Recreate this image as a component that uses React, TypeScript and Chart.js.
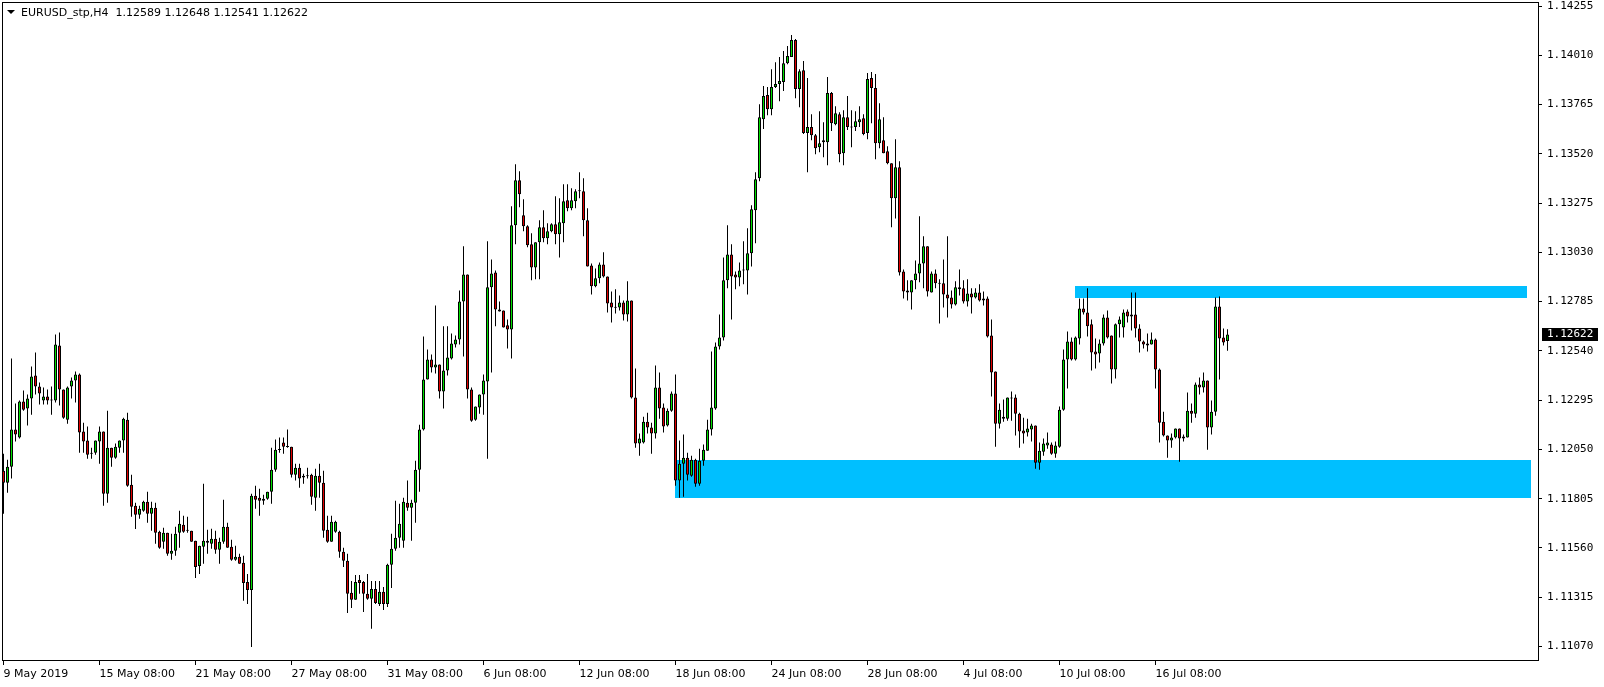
import React, { useEffect, useRef } from 'react';
import { Chart, registerables } from 'chart.js';

Chart.register(...registerables);

const symbolTitle = 'EURUSD_stp,H4';

const opens = [
  1.11944, 1.11885, 1.11964, 1.12149, 1.12109, 1.12288, 1.12253, 1.12303, 1.12418, 1.12363,
  1.12293, 1.12313, 1.12295, 1.12293, 1.12567, 1.12348, 1.12198, 1.12363, 1.12393, 1.12423,
  1.12139, 1.12094, 1.12034, 1.12034, 1.12089, 1.12139, 1.11830, 1.12059, 1.12009, 1.12059,
  1.12094, 1.12198, 1.11875, 1.11770, 1.11725, 1.11745, 1.11790, 1.11730, 1.11760, 1.11641,
  1.11591, 1.11636, 1.11531, 1.11546, 1.11636, 1.11675, 1.11648, 1.11646, 1.11596, 1.11471,
  1.11566, 1.11586, 1.11581, 1.11606, 1.11551, 1.11591, 1.11666, 1.11566, 1.11501, 1.11516,
  1.11486, 1.11391, 1.11351, 1.11820, 1.11810, 1.11795, 1.11805, 1.11840, 1.11949, 1.12047,
  1.12084, 1.12064, 1.12064, 1.11924, 1.11959, 1.11910, 1.11919, 1.11924, 1.11810, 1.11919,
  1.11885, 1.11651, 1.11591, 1.11641, 1.11641, 1.11541, 1.11496, 1.11337, 1.11302, 1.11401,
  1.11391, 1.11332, 1.11307, 1.11356, 1.11282, 1.11342, 1.11282, 1.11476, 1.11556, 1.11611,
  1.11596, 1.11785, 1.11760, 1.11785, 1.11949, 1.12149, 1.12398, 1.12497, 1.12457, 1.12472,
  1.12338, 1.12443, 1.12502, 1.12572, 1.12597, 1.12786, 1.12920, 1.12348, 1.12198, 1.12258,
  1.12323, 1.12388, 1.12856, 1.12930, 1.12746, 1.12741, 1.12667, 1.12647, 1.13165, 1.13389,
  1.13215, 1.13160, 1.13070, 1.12955, 1.13080, 1.13155, 1.13100, 1.13135, 1.13170, 1.13120,
  1.13175, 1.13289, 1.13249, 1.13284, 1.13334, 1.13334, 1.13190, 1.12965, 1.12861, 1.12901,
  1.12970, 1.12910, 1.12781, 1.12756, 1.12756, 1.12781, 1.12721, 1.12791, 1.12308, 1.12079,
  1.12084, 1.12188, 1.12159, 1.12129, 1.12358, 1.12258, 1.12169, 1.12243, 1.12328, 1.11895,
  1.11979, 1.12009, 1.11919, 1.11999, 1.11880, 1.11994, 1.12044, 1.12149, 1.12253, 1.12562,
  1.12607, 1.12891, 1.13020, 1.12920, 1.12905, 1.12940, 1.12940, 1.13025, 1.13239, 1.13398,
  1.13692, 1.13812, 1.13742, 1.13852, 1.13867, 1.13877, 1.13971, 1.14001, 1.14086, 1.13842,
  1.13936, 1.13623, 1.13653, 1.13613, 1.13553, 1.13578, 1.13578, 1.13822, 1.13667, 1.13717,
  1.13523, 1.13702, 1.13653, 1.13653, 1.13677, 1.13697, 1.13623, 1.13897, 1.13847, 1.13573,
  1.13588, 1.13533, 1.13473, 1.13299, 1.13453, 1.12935, 1.12841, 1.12831, 1.12891, 1.12925,
  1.12975, 1.13060, 1.12831, 1.12925, 1.12876, 1.12876, 1.12821, 1.12806, 1.12771, 1.12856,
  1.12851, 1.12786, 1.12826, 1.12806, 1.12831, 1.12801, 1.12801, 1.12617, 1.12438, 1.12178,
  1.12203, 1.12203, 1.12308, 1.12308, 1.12228, 1.12144, 1.12134, 1.12149, 1.12169, 1.11984,
  1.12039, 1.12069, 1.12074, 1.12029, 1.12064, 1.12248, 1.12497, 1.12587, 1.12497, 1.12602,
  1.12751, 1.12731, 1.12672, 1.12537, 1.12527, 1.12577, 1.12706, 1.12617, 1.12448, 1.12672,
  1.12657, 1.12736, 1.12711, 1.12721, 1.12652, 1.12587, 1.12577, 1.12572, 1.12597, 1.12448,
  1.12188, 1.12119, 1.12094, 1.12109, 1.12154, 1.12104, 1.12109, 1.12243, 1.12228, 1.12373,
  1.12358, 1.12393, 1.12159, 1.12238, 1.12761, 1.12607, 1.12589,
];

const highs = [
  1.12029, 1.11999, 1.12502, 1.12278, 1.12293, 1.12343, 1.12323, 1.12462, 1.12532, 1.12383,
  1.12358, 1.12348, 1.12363, 1.12622, 1.12632, 1.12348, 1.12363, 1.12408, 1.12438, 1.12428,
  1.12183, 1.12164, 1.12059, 1.12094, 1.12164, 1.12139, 1.12243, 1.12059, 1.12079, 1.12094,
  1.12208, 1.12233, 1.11924, 1.11785, 1.11770, 1.11795, 1.11840, 1.11790, 1.11785, 1.11646,
  1.11661, 1.11636, 1.11631, 1.11666, 1.11745, 1.11720, 1.11715, 1.11646, 1.11596, 1.11571,
  1.11880, 1.11651, 1.11656, 1.11646, 1.11611, 1.11800, 1.11685, 1.11601, 1.11571, 1.11531,
  1.11521, 1.11431, 1.11830, 1.11870, 1.11855, 1.11825, 1.11840, 1.12059, 1.12099, 1.12109,
  1.12109, 1.12149, 1.12064, 1.11979, 1.11979, 1.11929, 1.11959, 1.11929, 1.11954, 1.11979,
  1.11944, 1.11720, 1.11720, 1.11695, 1.11646, 1.11561, 1.11531, 1.11396, 1.11426, 1.11426,
  1.11396, 1.11431, 1.11396, 1.11396, 1.11396, 1.11366, 1.11481, 1.11631, 1.11795, 1.11780,
  1.11810, 1.11895, 1.11800, 1.11994, 1.12173, 1.12612, 1.12547, 1.12522, 1.12766, 1.12472,
  1.12662, 1.12662, 1.12627, 1.12617, 1.12841, 1.13060, 1.12920, 1.12358, 1.12263, 1.12323,
  1.12423, 1.13085, 1.12995, 1.12940, 1.12786, 1.12741, 1.12696, 1.13259, 1.13468, 1.13433,
  1.13294, 1.13165, 1.13125, 1.13080, 1.13190, 1.13239, 1.13175, 1.13175, 1.13309, 1.13299,
  1.13369, 1.13369, 1.13349, 1.13344, 1.13428, 1.13398, 1.13249, 1.12975, 1.12950, 1.12980,
  1.13030, 1.12910, 1.12836, 1.12846, 1.12816, 1.12791, 1.12886, 1.12791, 1.12452, 1.12129,
  1.12213, 1.12233, 1.12183, 1.12467, 1.12433, 1.12278, 1.12253, 1.12338, 1.12423, 1.12094,
  1.12124, 1.12034, 1.12019, 1.12004, 1.12054, 1.12074, 1.12198, 1.12537, 1.12582, 1.12721,
  1.13005, 1.13165, 1.13070, 1.12935, 1.12980, 1.13085, 1.13150, 1.13264, 1.13428, 1.13767,
  1.13857, 1.13852, 1.13941, 1.13976, 1.14001, 1.14031, 1.14056, 1.14111, 1.14091, 1.13941,
  1.13981, 1.13897, 1.13717, 1.13618, 1.13732, 1.13677, 1.13902, 1.13827, 1.13757, 1.13727,
  1.13737, 1.13807, 1.13737, 1.13732, 1.13757, 1.13717, 1.13922, 1.13927, 1.13917, 1.13772,
  1.13702, 1.13558, 1.13473, 1.13593, 1.13483, 1.12945, 1.12891, 1.12891, 1.12990, 1.13210,
  1.13110, 1.13060, 1.12935, 1.12945, 1.12896, 1.12995, 1.13110, 1.12841, 1.12886, 1.12945,
  1.12891, 1.12896, 1.12851, 1.12851, 1.12871, 1.12836, 1.12811, 1.12696, 1.12438, 1.12278,
  1.12298, 1.12308, 1.12338, 1.12323, 1.12233, 1.12208, 1.12203, 1.12178, 1.12169, 1.12084,
  1.12104, 1.12134, 1.12084, 1.12089, 1.12263, 1.12547, 1.12637, 1.12607, 1.12612, 1.12801,
  1.12801, 1.12851, 1.12696, 1.12602, 1.12597, 1.12721, 1.12741, 1.12617, 1.12676, 1.12711,
  1.12746, 1.12746, 1.12831, 1.12831, 1.12672, 1.12592, 1.12627, 1.12632, 1.12602, 1.12452,
  1.12238, 1.12119, 1.12129, 1.12154, 1.12154, 1.12124, 1.12333, 1.12278, 1.12383, 1.12408,
  1.12433, 1.12393, 1.12293, 1.12806, 1.12811, 1.12652, 1.12648,
];

const lows = [
  1.11730, 1.11835, 1.11905, 1.12089, 1.12104, 1.12243, 1.12169, 1.12223, 1.12323, 1.12273,
  1.12273, 1.12273, 1.12223, 1.12283, 1.12268, 1.12203, 1.12178, 1.12303, 1.12283, 1.12034,
  1.12034, 1.12004, 1.12004, 1.12024, 1.11979, 1.11770, 1.11785, 1.11964, 1.12004, 1.12034,
  1.12034, 1.11865, 1.11715, 1.11655, 1.11705, 1.11740, 1.11685, 1.11646, 1.11581, 1.11556,
  1.11556, 1.11521, 1.11501, 1.11521, 1.11561, 1.11636, 1.11636, 1.11591, 1.11411, 1.11431,
  1.11481, 1.11531, 1.11556, 1.11531, 1.11481, 1.11581, 1.11561, 1.11496, 1.11496, 1.11481,
  1.11297, 1.11282, 1.11068, 1.11755, 1.11720, 1.11775, 1.11800, 1.11780, 1.11939, 1.12034,
  1.12029, 1.12059, 1.11910, 1.11895, 1.11860, 1.11880, 1.11905, 1.11775, 1.11745, 1.11810,
  1.11611, 1.11586, 1.11591, 1.11636, 1.11511, 1.11466, 1.11237, 1.11262, 1.11302, 1.11332,
  1.11242, 1.11302, 1.11158, 1.11282, 1.11272, 1.11252, 1.11267, 1.11361, 1.11546, 1.11561,
  1.11561, 1.11745, 1.11596, 1.11685, 1.11840, 1.12144, 1.12398, 1.12433, 1.12428, 1.12303,
  1.12253, 1.12418, 1.12497, 1.12557, 1.12572, 1.12512, 1.12303, 1.12188, 1.12193, 1.12228,
  1.12223, 1.12004, 1.12433, 1.12662, 1.12736, 1.12657, 1.12552, 1.12502, 1.13070, 1.13254,
  1.13135, 1.13055, 1.12891, 1.12896, 1.12896, 1.13080, 1.13070, 1.13130, 1.13070, 1.13005,
  1.13080, 1.13234, 1.13239, 1.13249, 1.13299, 1.13110, 1.12960, 1.12821, 1.12856, 1.12876,
  1.12905, 1.12731, 1.12681, 1.12726, 1.12741, 1.12691, 1.12686, 1.12303, 1.12059, 1.12019,
  1.12079, 1.12129, 1.12029, 1.12104, 1.12203, 1.12134, 1.12164, 1.12238, 1.11870, 1.11810,
  1.11815, 1.11895, 1.11914, 1.11865, 1.11870, 1.11969, 1.12044, 1.12119, 1.12248, 1.12547,
  1.12592, 1.12851, 1.12696, 1.12846, 1.12861, 1.12871, 1.12821, 1.12960, 1.13075, 1.13384,
  1.13643, 1.13712, 1.13712, 1.13847, 1.13782, 1.13832, 1.13966, 1.14001, 1.13797, 1.13752,
  1.13618, 1.13428, 1.13588, 1.13518, 1.13528, 1.13503, 1.13463, 1.13633, 1.13662, 1.13478,
  1.13463, 1.13638, 1.13553, 1.13633, 1.13653, 1.13613, 1.13593, 1.13672, 1.13493, 1.13548,
  1.13523, 1.13468, 1.13155, 1.13199, 1.12915, 1.12801, 1.12791, 1.12746, 1.12846, 1.12881,
  1.12851, 1.12811, 1.12831, 1.12851, 1.12676, 1.12756, 1.12706, 1.12751, 1.12766, 1.12816,
  1.12776, 1.12761, 1.12726, 1.12801, 1.12786, 1.12766, 1.12607, 1.12313, 1.12064, 1.12154,
  1.12188, 1.12193, 1.12193, 1.12119, 1.12059, 1.12079, 1.12114, 1.12089, 1.11954, 1.11949,
  1.12019, 1.12054, 1.12024, 1.12009, 1.12059, 1.12243, 1.12353, 1.12492, 1.12492, 1.12572,
  1.12721, 1.12612, 1.12443, 1.12452, 1.12482, 1.12567, 1.12602, 1.12378, 1.12403, 1.12607,
  1.12607, 1.12681, 1.12642, 1.12607, 1.12532, 1.12552, 1.12537, 1.12572, 1.12353, 1.12084,
  1.12114, 1.12009, 1.12059, 1.12104, 1.11989, 1.12089, 1.12109, 1.12183, 1.12208, 1.12323,
  1.12333, 1.12049, 1.12124, 1.12218, 1.12398, 1.12567, 1.12541,
];

const closes = [
  1.11885, 1.11964, 1.12149, 1.12124, 1.12288, 1.12248, 1.12303, 1.12413, 1.12363, 1.12328,
  1.12313, 1.12293, 1.12293, 1.12572, 1.12348, 1.12208, 1.12358, 1.12393, 1.12423, 1.12134,
  1.12089, 1.12024, 1.12029, 1.12094, 1.12139, 1.11830, 1.12059, 1.12009, 1.12064, 1.12094,
  1.12203, 1.11870, 1.11765, 1.11725, 1.11755, 1.11790, 1.11730, 1.11760, 1.11636, 1.11561,
  1.11636, 1.11531, 1.11546, 1.11631, 1.11680, 1.11641, 1.11646, 1.11591, 1.11466, 1.11571,
  1.11596, 1.11596, 1.11606, 1.11551, 1.11591, 1.11666, 1.11561, 1.11501, 1.11516, 1.11481,
  1.11386, 1.11351, 1.11820, 1.11800, 1.11795, 1.11805, 1.11840, 1.11949, 1.12049, 1.12049,
  1.12064, 1.12062, 1.11924, 1.11959, 1.11905, 1.11919, 1.11917, 1.11815, 1.11919, 1.11885,
  1.11646, 1.11591, 1.11690, 1.11690, 1.11541, 1.11496, 1.11332, 1.11302, 1.11391, 1.11386,
  1.11332, 1.11307, 1.11356, 1.11287, 1.11342, 1.11282, 1.11476, 1.11556, 1.11611, 1.11680,
  1.11790, 1.11760, 1.11785, 1.11949, 1.12149, 1.12398, 1.12497, 1.12457, 1.12472, 1.12338,
  1.12443, 1.12507, 1.12577, 1.12597, 1.12786, 1.12920, 1.12348, 1.12193, 1.12263, 1.12323,
  1.12393, 1.12856, 1.12925, 1.12746, 1.12736, 1.12657, 1.12647, 1.13165, 1.13389, 1.13319,
  1.13160, 1.13065, 1.12955, 1.13080, 1.13155, 1.13100, 1.13135, 1.13170, 1.13120, 1.13180,
  1.13284, 1.13249, 1.13289, 1.13334, 1.13336, 1.13190, 1.12960, 1.12861, 1.12901, 1.12970,
  1.12910, 1.12776, 1.12756, 1.12754, 1.12781, 1.12721, 1.12791, 1.12308, 1.12079, 1.12104,
  1.12188, 1.12159, 1.12129, 1.12358, 1.12253, 1.12164, 1.12243, 1.12328, 1.11895, 1.11979,
  1.12009, 1.11924, 1.11999, 1.11880, 1.11994, 1.12049, 1.12149, 1.12258, 1.12562, 1.12607,
  1.12891, 1.13020, 1.12910, 1.12905, 1.12940, 1.12942, 1.13025, 1.13244, 1.13394, 1.13702,
  1.13807, 1.13742, 1.13852, 1.13867, 1.13882, 1.13971, 1.14006, 1.14086, 1.13842, 1.13931,
  1.13623, 1.13653, 1.13613, 1.13548, 1.13573, 1.13588, 1.13822, 1.13672, 1.13722, 1.13518,
  1.13702, 1.13653, 1.13651, 1.13682, 1.13692, 1.13618, 1.13892, 1.13847, 1.13573, 1.13692,
  1.13523, 1.13473, 1.13299, 1.13453, 1.12930, 1.12836, 1.12831, 1.12891, 1.12925, 1.12975,
  1.13060, 1.12836, 1.12925, 1.12876, 1.12874, 1.12821, 1.12801, 1.12771, 1.12856, 1.12846,
  1.12786, 1.12826, 1.12806, 1.12831, 1.12791, 1.12791, 1.12612, 1.12433, 1.12178, 1.12248,
  1.12213, 1.12308, 1.12303, 1.12228, 1.12139, 1.12129, 1.12154, 1.12169, 1.11984, 1.12044,
  1.12079, 1.12084, 1.12029, 1.12069, 1.12248, 1.12497, 1.12587, 1.12497, 1.12607, 1.12751,
  1.12731, 1.12662, 1.12532, 1.12522, 1.12577, 1.12706, 1.12607, 1.12448, 1.12672, 1.12696,
  1.12731, 1.12711, 1.12721, 1.12652, 1.12587, 1.12572, 1.12567, 1.12597, 1.12448, 1.12183,
  1.12119, 1.12094, 1.12109, 1.12154, 1.12104, 1.12114, 1.12243, 1.12228, 1.12373, 1.12358,
  1.12393, 1.12159, 1.12238, 1.12761, 1.12602, 1.12582, 1.12622,
];

const yTickValues = [
  1.14255, 1.1401, 1.13765, 1.1352, 1.13275, 1.1303, 1.12785, 1.1254, 1.12295, 1.1205,
  1.11805, 1.1156, 1.11315, 1.1107,
];

const xTickBars = [0, 24, 48, 72, 96, 120, 144, 168, 192, 216, 240, 264, 288];
const xTickLabels = [
  '9 May 2019', '15 May 08:00', '21 May 08:00', '27 May 08:00', '31 May 08:00', '6 Jun 08:00',
  '12 Jun 08:00', '18 Jun 08:00', '24 Jun 08:00', '28 Jun 08:00', '4 Jul 08:00', '10 Jul 08:00',
  '16 Jul 08:00',
];

// support / resistance zones (bar index range, price range)
const zoneFromBar = [167.9, 267.9];
const zoneToBar = [381.9, 380.9];
const zoneTopPrice = [1.11999, 1.12861];
const zoneBottomPrice = [1.11811, 1.12803];

const xMin = -0.375;
const xMax = 383.875;
const yMin = 1.10998;
const yMax = 1.14275;

const BULL = '#00e000';
const BEAR = '#e00000';
const ZONE = '#00bfff';

export default function App() {
  const canvasRef = useRef<HTMLCanvasElement | null>(null);

  useEffect(() => {
    const canvas = canvasRef.current;
    if (!canvas) return;

    const bodies = opens.map((o, i) => ({ x: i, y: [o, closes[i]] }));
    const wicks = lows.map((l, i) => ({ x: i, y: [l, highs[i]] }));
    const bodyColors = opens.map((o, i) => (closes[i] > o ? BULL : closes[i] < o ? BEAR : '#000000'));

    const last = closes.length - 1;
    const titleText =
      symbolTitle +
      '  ' +
      [opens[last], highs[last], lows[last], closes[last]].map((v) => v.toFixed(5)).join(' ');

    const decorPlugin = {
      id: 'mt4decor',
      beforeDatasetsDraw(chart: any) {
        const { ctx, chartArea, scales } = chart;
        const xs = scales.x;
        const ys = scales.y;
        ctx.save();
        ctx.beginPath();
        ctx.rect(chartArea.left, chartArea.top, chartArea.right - chartArea.left, chartArea.bottom - chartArea.top);
        ctx.clip();
        ctx.fillStyle = ZONE;
        for (let k = 0; k < zoneFromBar.length; k++) {
          const x1 = xs.getPixelForValue(zoneFromBar[k]);
          const x2 = xs.getPixelForValue(zoneToBar[k]);
          const y1 = ys.getPixelForValue(zoneTopPrice[k]);
          const y2 = ys.getPixelForValue(zoneBottomPrice[k]);
          ctx.fillRect(Math.round(x1), Math.round(y1), Math.round(x2 - x1), Math.round(y2 - y1));
        }
        ctx.restore();
        ctx.save();
        ctx.strokeStyle = '#000000';
        ctx.lineWidth = 1;
        ctx.strokeRect(
          chartArea.left + 0.5,
          chartArea.top + 0.5,
          chartArea.right - chartArea.left - 1,
          chartArea.bottom - chartArea.top - 1
        );
        ctx.restore();
      },
      afterDraw(chart: any) {
        const { ctx, scales } = chart;
        const ys = scales.y;
        ctx.save();
        ctx.fillStyle = '#000000';
        ctx.beginPath();
        ctx.moveTo(7, 10);
        ctx.lineTo(15, 10);
        ctx.lineTo(11, 14);
        ctx.closePath();
        ctx.fill();
        ctx.font = '11px "DejaVu Sans"';
        ctx.textBaseline = 'middle';
        ctx.textAlign = 'left';
        ctx.fillText(titleText, 21, 13);
        const py = ys.getPixelForValue(closes[last]);
        ctx.fillStyle = '#000000';
        ctx.fillRect(ys.left + 3, Math.round(py - 6.5), 56, 13);
        ctx.fillStyle = '#ffffff';
        ctx.font = '11px "DejaVu Sans Mono"';
        ctx.fillText(closes[last].toFixed(5), ys.left + 8, Math.round(py) + 0.5);
        ctx.restore();
      },
    };

    const chart = new Chart(canvas, {
      type: 'bar',
      data: {
        datasets: [
          {
            label: 'body',
            data: bodies as any,
            backgroundColor: bodyColors,
            borderColor: '#000000',
            borderWidth: 1,
            borderSkipped: false,
            barThickness: 3,
            grouped: false,
            minBarLength: 1,
            inflateAmount: 0,
            order: 0,
          } as any,
          {
            label: 'wick',
            data: wicks as any,
            backgroundColor: '#000000',
            borderWidth: 0,
            barThickness: 1,
            grouped: false,
            inflateAmount: 0,
            order: 1,
          } as any,
        ],
      },
      plugins: [decorPlugin],
      options: {
        responsive: false,
        animation: false,
        events: [],
        layout: { padding: { left: 2, top: 2, right: 0, bottom: 0 } },
        plugins: {
          legend: { display: false },
          tooltip: { enabled: false },
          title: { display: false },
        },
        scales: {
          x: {
            type: 'linear',
            min: xMin,
            max: xMax,
            offset: false,
            afterBuildTicks: (s: any) => {
              s.ticks = xTickBars.map((v) => ({ value: v }));
            },
            afterFit: (s: any) => {
              s.height = 26;
              s.paddingLeft = 0;
              s.paddingRight = 0;
            },
            grid: {
              display: true,
              drawOnChartArea: false,
              drawTicks: true,
              tickLength: 4,
              color: '#000000',
              offset: false,
            },
            border: { display: false },
            ticks: {
              autoSkip: false,
              maxRotation: 0,
              minRotation: 0,
              align: 'start',
              padding: 3,
              color: '#000000',
              font: { family: 'DejaVu Sans', size: 11 },
              callback: (_v: any, i: number) => xTickLabels[i],
            },
          } as any,
          y: {
            type: 'linear',
            position: 'right',
            min: yMin,
            max: yMax,
            afterBuildTicks: (s: any) => {
              s.ticks = yTickValues.map((v) => ({ value: v }));
            },
            afterFit: (s: any) => {
              s.width = 65;
              s.paddingTop = 0;
              s.paddingBottom = 0;
            },
            grid: {
              display: true,
              drawOnChartArea: false,
              drawTicks: true,
              tickLength: 3,
              color: '#000000',
            },
            border: { display: false },
            ticks: {
              autoSkip: false,
              padding: 5,
              color: '#000000',
              font: { family: 'DejaVu Sans Mono', size: 11 },
              callback: (v: any) => Number(v).toFixed(5),
            },
          } as any,
        },
      },
    });

    return () => {
      chart.destroy();
    };
  }, []);

  return (
    <div style={{ position: 'absolute', left: 0, top: 0, width: 1604, height: 687, background: '#ffffff' }}>
      <canvas ref={canvasRef} width={1604} height={687} style={{ display: 'block' }} />
    </div>
  );
}
